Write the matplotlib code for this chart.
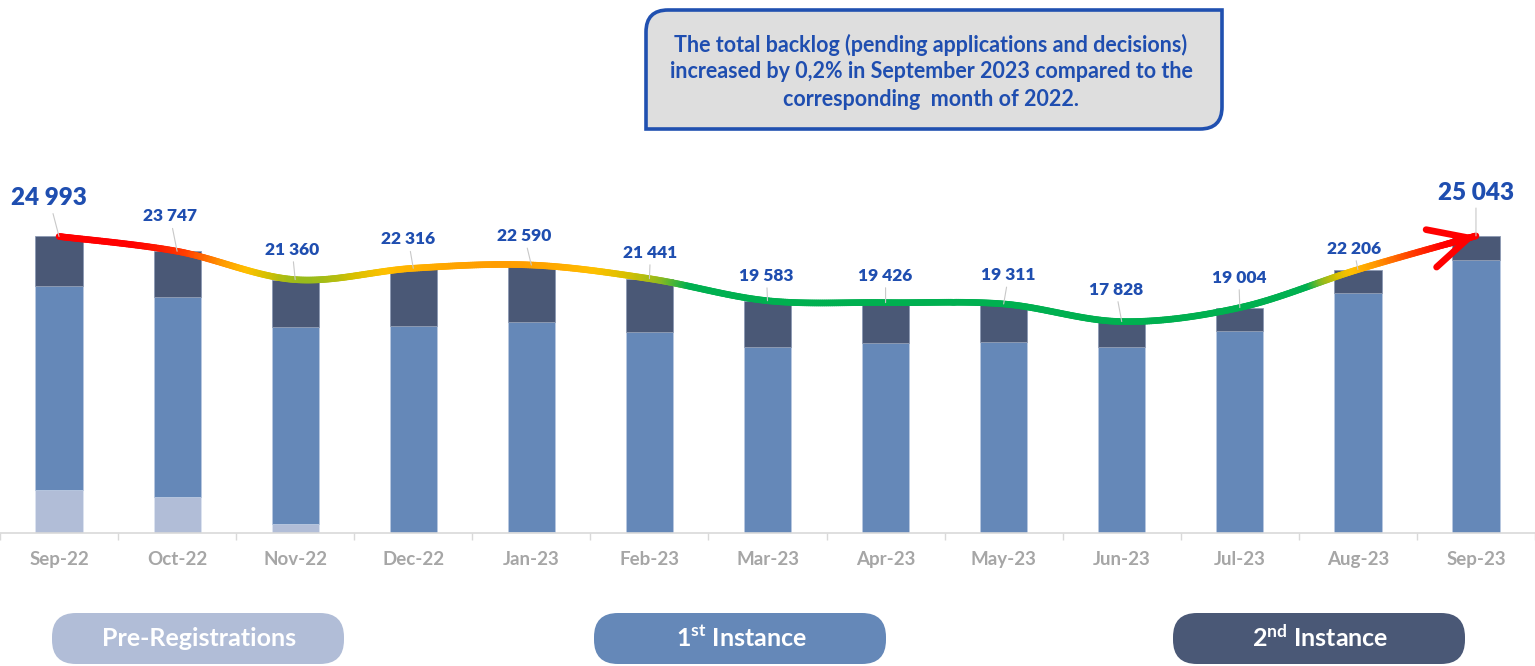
import numpy as np
import matplotlib
matplotlib.use("Agg")
import matplotlib.pyplot as plt
from matplotlib.collections import LineCollection
from matplotlib.colors import LinearSegmentedColormap, Normalize
from matplotlib.patches import FancyBboxPatch, PathPatch
from matplotlib.path import Path

# ---------------- data ----------------
months = ["Sep-22", "Oct-22", "Nov-22", "Dec-22", "Jan-23", "Feb-23", "Mar-23",
          "Apr-23", "May-23", "Jun-23", "Jul-23", "Aug-23", "Sep-23"]
pre_registrations = [3680, 3065, 810, 66, 140, 0, 0, 0, 0, 0, 0, 0, 0]
first_instance = [17160, 16800, 16590, 17400, 17650, 16971, 15723, 16025, 16082, 15690, 17035, 20210, 23013]
second_instance = [4153, 3882, 3960, 4850, 4800, 4470, 3860, 3401, 3229, 2138, 1969, 1996, 2030]
totals = [24993, 23747, 21360, 22316, 22590, 21441, 19583, 19426, 19311, 17828, 19004, 22206, 25043]

legend_labels = ["Pre-Registrations", r"$\mathbf{1^{st}}$ Instance", r"$\mathbf{2^{nd}}$ Instance"]
note_lines = ["The total backlog (pending applications and decisions)",
              "increased by 0,2% in September 2023 compared to the",
              "corresponding  month of 2022."]

# ---------------- style ----------------
plt.rcParams['font.family'] = ['Lato', 'DejaVu Sans']
plt.rcParams['mathtext.fontset'] = 'custom'
plt.rcParams['mathtext.bf'] = 'Lato:bold'
plt.rcParams['mathtext.rm'] = 'Lato:bold'
plt.rcParams['mathtext.it'] = 'Lato:bold'

C_PRE = '#B1BDD7'
C_FIRST = '#6588B8'
C_SECOND = '#4A5876'
C_LABEL = '#1F4EB0'
C_TICK = '#A6A6A6'

W, H = 1535, 666
fig = plt.figure(figsize=(W / 100, H / 100), dpi=100)
base_px = 533.3
units_per_px = 84.2
ymax = 30000
ax = fig.add_axes([0, (H - base_px) / H, 1, ymax / units_per_px / H])

x = np.arange(len(months))
pre = np.array(pre_registrations)
fi = np.array(first_instance)
se = np.array(second_instance)
bw = 0.40
ax.bar(x, pre, bw, color=C_PRE, edgecolor='#DCE3F0', linewidth=0.6, zorder=2)
ax.bar(x, fi, bw, bottom=pre, color=C_FIRST, edgecolor='#B9C8E0', linewidth=0.6, zorder=2)
ax.bar(x, se, bw, bottom=pre + fi, color=C_SECOND, edgecolor='#8D9AB3', linewidth=0.6, zorder=2)

ax.set_xlim(-0.5, len(months) - 0.5)
ax.set_ylim(0, ymax)
for s in ['top', 'left', 'right']:
    ax.spines[s].set_visible(False)
ax.spines['bottom'].set_color('#D9D9D9')
ax.spines['bottom'].set_linewidth(1.2)
ax.set_yticks([])
ax.set_xticks(x, months)
ax.set_xticks(np.arange(-0.5, len(months), 1), minor=True)
ax.tick_params(axis='x', which='major', length=0, pad=12.5, labelsize=13.5,
               labelcolor=C_TICK)
ax.tick_params(axis='x', which='minor', length=5, width=1, color='#D9D9D9')
for lab in ax.get_xticklabels():
    lab.set_fontweight('bold')


# ---------------- smoothed gradient trend line ----------------
def smooth(xs, ys, n=60):
    P = np.column_stack([xs, ys]).astype(float)
    Pe = np.vstack([P[0], P, P[-1]])
    out = []
    for i in range(len(P) - 1):
        p0, p1, p2, p3 = Pe[i], Pe[i + 1], Pe[i + 2], Pe[i + 3]
        c1 = p1 + (p2 - p0) / 6
        c2 = p2 - (p3 - p1) / 6
        t = np.linspace(0, 1, n, endpoint=(i == len(P) - 2))[:, None]
        out.append((1 - t) ** 3 * p1 + 3 * (1 - t) ** 2 * t * c1
                   + 3 * (1 - t) * t ** 2 * c2 + t ** 3 * p2)
    return np.vstack(out)


curve = smooth(x, totals)
vmin, vmax = 17000, 25100
nodes = [(17000, '#00B050'), (20800, '#00B050'), (21250, '#8DBA20'),
         (21700, '#D8C000'), (22100, '#FFC000'), (22700, '#FF9A00'),
         (23600, '#FF3C00'), (24300, '#FF0000'), (25100, '#FF0000')]
cmap = LinearSegmentedColormap.from_list(
    'trend', [((v - vmin) / (vmax - vmin), c) for v, c in nodes])
norm = Normalize(vmin, vmax)
segs = np.stack([curve[:-1], curve[1:]], axis=1)
mid = (curve[:-1, 1] + curve[1:, 1]) / 2
lc = LineCollection(segs, colors=cmap(norm(mid)), linewidths=4.8,
                    capstyle='round', joinstyle='round', zorder=3)
ax.add_collection(lc)

ax.annotate('', xy=(x[-1], totals[-1]), xytext=tuple(curve[-20]),
            arrowprops=dict(arrowstyle='->,head_length=1.0,head_width=0.5',
                            mutation_scale=28, color='#FF0000', lw=4.8,
                            shrinkA=0, shrinkB=0, joinstyle='round',
                            capstyle='round'),
            zorder=4)

# ---------------- data labels ----------------
offsets = [(-10, 38), (-7, 35), (-3, 30), (-5, 29), (-7, 29), (1, 26), (-1, 25),
           (0, 27), (5, 29), (-6, 32), (-1, 30), (-4, 21), (0, 43)]
for i, (v, off) in enumerate(zip(totals, offsets)):
    big = i in (0, len(totals) - 1)
    ax.annotate(f"{v:,}".replace(",", " "), xy=(x[i], v), xytext=off,
                textcoords='offset pixels', ha='center', va='center',
                fontsize=17.5 if big else 12.5, fontweight='heavy', color=C_LABEL,
                arrowprops=dict(arrowstyle='-', color='#C8C8C8', lw=0.8,
                                shrinkA=1, shrinkB=0),
                zorder=5, annotation_clip=False)

# ---------------- overlay: note box and legend pills ----------------
ov = fig.add_axes([0, 0, 1, 1])
ov.set_xlim(0, W)
ov.set_ylim(H, 0)
ov.axis('off')

x0, x1, y0, y1, r = 646, 1222, 10, 129, 22
verts = [(x0, y0 + r), (x0, y0), (x0 + r, y0), (x1, y0), (x1, y1 - r),
         (x1, y1), (x1 - r, y1), (x0, y1), (x0, y0 + r)]
codes = [Path.MOVETO, Path.CURVE3, Path.CURVE3, Path.LINETO, Path.LINETO,
         Path.CURVE3, Path.CURVE3, Path.LINETO, Path.CLOSEPOLY]
ov.add_patch(PathPatch(Path(verts, codes), facecolor='#DEDEDE',
                       edgecolor='#2050B0', linewidth=2.6))
for j, line in enumerate(note_lines):
    ov.text(931, 45 + 27 * j, line, ha='center', va='center', fontsize=15.5,
            fontweight='bold', color=C_LABEL)

pills = [(52, C_PRE), (594, C_FIRST), (1173, C_SECOND)]
for (px, col), lab in zip(pills, legend_labels):
    ov.add_patch(FancyBboxPatch((px, 613), 292, 51,
                                boxstyle='round,pad=0,rounding_size=24',
                                facecolor=col, edgecolor='none'))
    ov.text(px + 147, 638, lab, ha='center', va='center', fontsize=18,
            fontweight='bold', color='white')

fig.savefig('out.png', dpi=100)
